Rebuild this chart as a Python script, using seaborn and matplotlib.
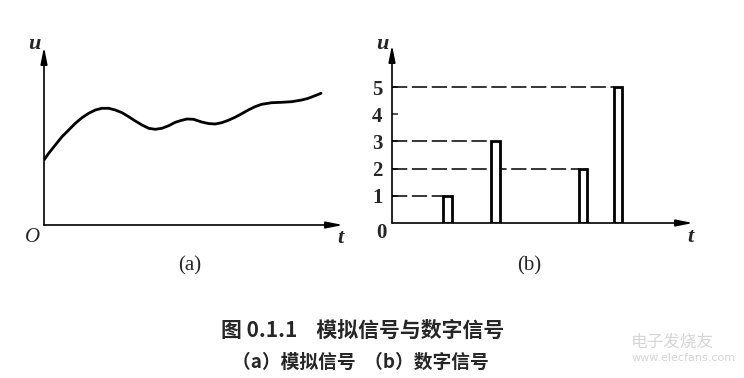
import matplotlib
matplotlib.use("Agg")
import matplotlib.pyplot as plt
import seaborn as sns

# ---- data -------------------------------------------------------------
# (a) analog signal
t_analog = [0.0, 0.47, 1.13, 1.8, 2.47, 3.13, 3.8, 4.47, 5.13, 5.8, 6.47,
            7.13, 7.8, 8.47, 9.13, 9.8, 10.47, 11.13, 11.8, 12.47, 13.13,
            13.63, 14.3, 14.97, 15.1, 15.77, 16.43, 17.1, 17.77, 18.43, 19.1,
            19.77, 20.43, 21.1, 21.77, 22.77, 23.77, 24.77, 25.77, 26.43,
            27.1, 27.7]
u_analog = [6.5, 7.17, 8.0, 8.83, 9.5, 10.17, 10.73, 11.17, 11.5, 11.67,
            11.67, 11.5, 11.23, 10.83, 10.4, 10.0, 9.67, 9.57, 9.67, 9.93,
            10.27, 10.43, 10.6, 10.57, 10.52, 10.3, 10.15, 10.1, 10.23, 10.47,
            10.77, 11.13, 11.5, 11.83, 12.07, 12.23, 12.27, 12.33, 12.5,
            12.67, 12.93, 13.17]

# (b) digital signal pulses
pulse_start = [1.70, 3.29, 6.20, 7.36]
pulse_level = [1, 3, 2, 5]
pulse_width = 0.286
ytick_vals = [1, 2, 3, 4, 5]
ytick_labels = ["1", "2", "3", "4", "5"]

title_main = "图 0.1.1    模拟信号与数字信号"
title_sub = "（a）模拟信号  （b）数字信号"

# ---- style ------------------------------------------------------------
sns.set_style("white")
plt.rcParams["font.family"] = ["Liberation Serif", "DejaVu Serif"]

W, H = 744, 378
fig = plt.figure(figsize=(W / 100, H / 100), dpi=100)


def ax_rect(left, top, right, bottom):
    return [left / W, 1 - bottom / H, (right - left) / W, (bottom - top) / H]


def draw_axes_arrows(ax):
    kw = dict(arrowstyle="-|>,head_length=1.0,head_width=0.2", lw=1.2,
              color="black", shrinkA=0, shrinkB=0)
    ax.annotate("", xy=(1, 0), xytext=(0, 0), xycoords="axes fraction",
                textcoords="axes fraction", arrowprops=kw, annotation_clip=False)
    ax.annotate("", xy=(0, 1), xytext=(0, 0), xycoords="axes fraction",
                textcoords="axes fraction", arrowprops=kw, annotation_clip=False)
    for s in ax.spines.values():
        s.set_visible(False)


def ftext(x, y, s, **kw):
    fig.text(x / W, 1 - y / H, s, ha="center", va="center", **kw)


# ---- panel (a) --------------------------------------------------------
axa = fig.add_axes(ax_rect(44, 47, 343, 225))
sns.lineplot(x=t_analog, y=u_analog, ax=axa, color="black", lw=2.0,
             sort=False, estimator=None, solid_joinstyle="round",
             solid_capstyle="round")
axa.set_xlim(0, 29.9)
axa.set_ylim(0, 17.8)
axa.set_xticks([])
axa.set_yticks([])
axa.set_xlabel("")
axa.set_ylabel("")
draw_axes_arrows(axa)

ftext(34, 44, "u", fontsize=16, style="italic", weight="bold")
ftext(33, 237, "O", fontsize=15, style="italic")
ftext(340, 238, "t", fontsize=16, style="italic", weight="bold")
ftext(190, 266, "(a)", fontsize=15)

# ---- panel (b) --------------------------------------------------------
axb = fig.add_axes(ax_rect(392, 45, 693, 223))
axb.hlines(pulse_level, 0, pulse_start, colors="black",
           linestyles=(0, (10, 3)), lw=1.1, zorder=2)
axb.bar(pulse_start, pulse_level, width=pulse_width, align="edge",
        facecolor="white", edgecolor="black", lw=2.0, zorder=3)
axb.set_xlim(0, 10.0)
axb.set_ylim(0, 6.55)
axb.set_xticks([])
axb.set_yticks(ytick_vals, ytick_labels)
axb.tick_params(axis="y", left=True, direction="in", length=4, width=1.1,
                pad=7, labelsize=15)
for lab in axb.get_yticklabels():
    lab.set_fontweight("bold")
axb.set_xlabel("")
axb.set_ylabel("")
draw_axes_arrows(axb)

ftext(382, 44, "u", fontsize=16, style="italic", weight="bold")
ftext(381, 233, "0", fontsize=15, weight="bold")
ftext(690, 237, "t", fontsize=16, style="italic", weight="bold")
ftext(529, 266, "(b)", fontsize=15)

# ---- captions ---------------------------------------------------------
cjk = ["Noto Sans CJK SC", "DejaVu Sans"]
ftext(363, 330, title_main, fontsize=15, family=cjk, weight="bold")
ftext(360, 362, title_sub, fontsize=13.5, family=cjk, weight="bold")

# ---- watermark --------------------------------------------------------
ftext(672, 342, "电子发烧友", fontsize=12, family=cjk, color="#d6d6d6")
ftext(684, 358, "www.elecfans.com", fontsize=8, family=["DejaVu Sans"],
      color="#d6d6d6")

fig.savefig("out.png", dpi=100)
